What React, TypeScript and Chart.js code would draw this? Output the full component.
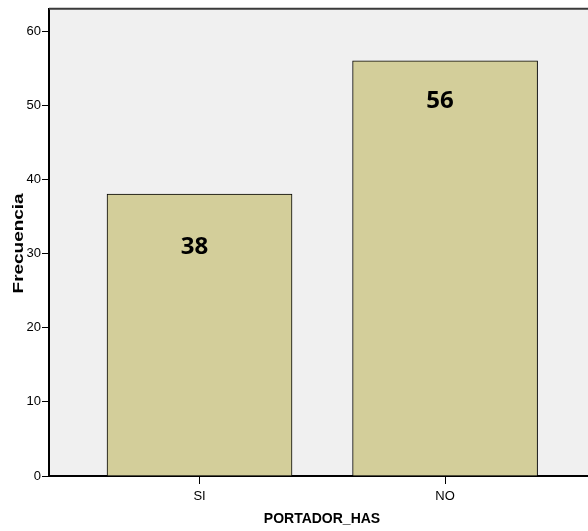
import React, { useEffect, useRef } from "react";
import { Chart, registerables } from "chart.js";

Chart.register(...registerables);

const categories = ["SI", "NO"];
const frequencies = [38, 56];
const xTitle = "PORTADOR_HAS";
const yTitle = "Frecuencia";
const yMax = 63;
const yStep = 10;

const BAR_COLOR = "#d3ce9a";
const PLOT_BG = "#f0f0f0";
const TICK_FONT = { family: "'Liberation Sans Narrow', 'Arial Narrow', 'Liberation Sans', sans-serif", size: 13 };

const decorPlugin = {
  id: "decor",
  beforeDraw(chart: any) {
    const { ctx, chartArea } = chart;
    ctx.save();
    ctx.fillStyle = PLOT_BG;
    ctx.fillRect(chartArea.left, chartArea.top, chart.width - chartArea.left, chartArea.bottom - chartArea.top);
    ctx.restore();
  },
  afterDraw(chart: any) {
    const { ctx, chartArea } = chart;
    ctx.save();
    // top frame line
    ctx.strokeStyle = "#3a3a3a";
    ctx.lineWidth = 2;
    ctx.beginPath();
    ctx.moveTo(chartArea.left, chartArea.top);
    ctx.lineTo(chart.width, chartArea.top);
    ctx.stroke();

    // data labels
    const offsets = [53, 40];
    const meta = chart.getDatasetMeta(0);
    ctx.fillStyle = "#000";
    ctx.font = "bold 24px 'Open Sans', 'Liberation Sans', sans-serif";
    ctx.textAlign = "center";
    ctx.textBaseline = "middle";
    meta.data.forEach((el: any, i: number) => {
      ctx.fillText(String(frequencies[i]), el.x - 5, el.y + offsets[i]);
    });

    // x title
    ctx.font = "bold 14px 'Liberation Sans', Arial, sans-serif";
    ctx.textAlign = "center";
    ctx.textBaseline = "middle";
    ctx.fillText(xTitle, 322, chartArea.bottom + 43);

    // y title (stretched)
    ctx.translate(19, (chartArea.top + chartArea.bottom) / 2 + 1);
    ctx.rotate(-Math.PI / 2);
    ctx.font = "bold 15px 'Liberation Sans', Arial, sans-serif";
    const w = ctx.measureText(yTitle).width;
    ctx.scale(100 / w, 1);
    ctx.fillText(yTitle, 0, 0);
    ctx.restore();
  },
};

export default function App() {
  const ref = useRef<HTMLCanvasElement | null>(null);
  useEffect(() => {
    if (!ref.current) return;
    const chart = new Chart(ref.current, {
      type: "bar",
      data: {
        datasets: [
          {
            data: categories.map((_, i) => ({ x: i + 1, y: frequencies[i] })),
            backgroundColor: BAR_COLOR,
            borderColor: "#000",
            borderWidth: 1,
            barThickness: 185,
          } as any,
        ],
      },
      options: {
        animation: false,
        responsive: false,
        devicePixelRatio: 1,
        layout: { padding: { top: 6, right: 0, left: 0, bottom: 0 } },
        plugins: { legend: { display: false }, tooltip: { enabled: false } },
        scales: {
          x: {
            type: "linear",
            min: 0.387,
            max: 2.582,
            offset: false,
            afterBuildTicks: (s: any) => {
              s.ticks = categories.map((_, i) => ({ value: i + 1 }));
            },
            afterFit: (s: any) => {
              s.height = 55;
            },
            ticks: {
              callback: (v: any) => categories[Math.round(Number(v)) - 1] ?? "",
              font: TICK_FONT,
              color: "#000",
              padding: 5,
              autoSkip: false,
              maxRotation: 0,
            },
            grid: { offset: false, drawOnChartArea: false, drawTicks: true, tickLength: 8, color: "#000", lineWidth: 1 },
            border: { display: true, color: "#000", width: 2 },
          },
          y: {
            min: 0,
            max: yMax,
            afterFit: (s: any) => {
              s.width = 49;
            },
            ticks: {
              stepSize: yStep,
              includeBounds: false,
              font: TICK_FONT,
              color: "#000",
              padding: 1,
            },
            grid: { drawOnChartArea: false, drawTicks: true, tickLength: 7, color: "#000", lineWidth: 1 },
            border: { display: true, color: "#000", width: 2 },
          },
        },
      } as any,
      plugins: [decorPlugin],
    });
    return () => chart.destroy();
  }, []);
  return (
    <div style={{ position: "fixed", left: 0, top: 0, width: 588, height: 531, background: "#fff" }}>
      <canvas ref={ref} width={588} height={531} style={{ display: "block" }} />
    </div>
  );
}
